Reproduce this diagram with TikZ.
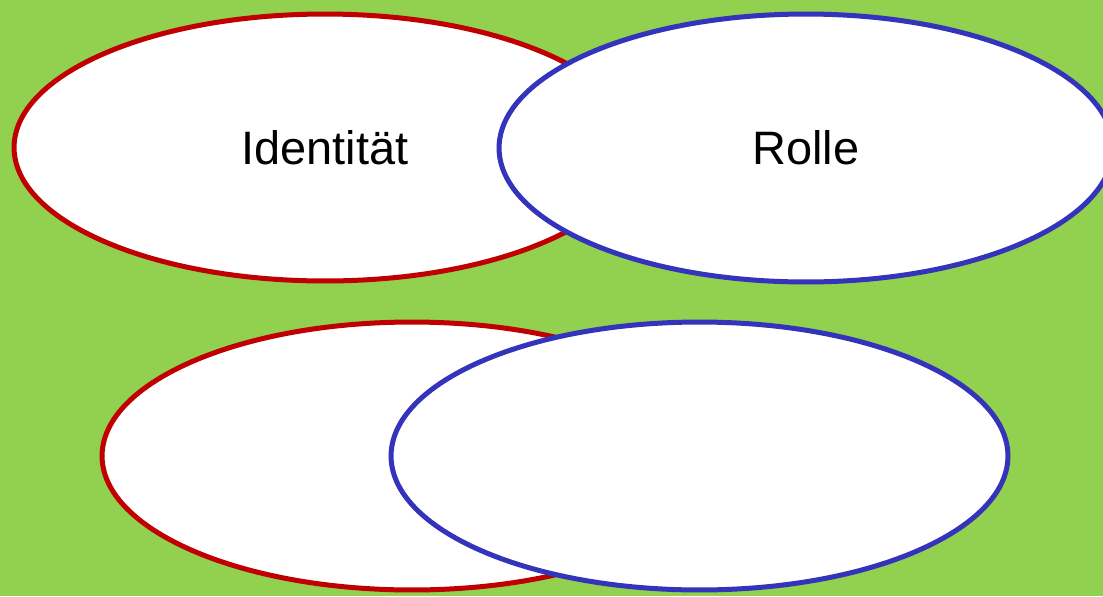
\documentclass[tikz,border=0pt]{standalone}
\usepackage{fontspec}
\setmainfont{Liberation Sans}
\usetikzlibrary{shapes.geometric}
\definecolor{bggreen}{RGB}{146,208,80}
\definecolor{idred}{RGB}{192,0,0}
\definecolor{roleblue}{RGB}{51,51,187}

\begin{document}
\begin{tikzpicture}[x=0.02cm,y=-0.02cm,
  blob/.style={ellipse,draw,fill=white,line width=0.1cm,inner sep=0pt,
    font=\fontsize{26.7}{32}\selectfont},
  idblob/.style={blob,draw=idred},
  roleblob/.style={blob,draw=roleblue}]
\fill[bggreen] (0,0) rectangle (1103,596);
\useasboundingbox (0,0) rectangle (1103,596);

% Upper pair
\node[idblob,minimum width=12.44cm,minimum height=5.34cm] (ident) at (325,147.5) {Identität};
\node[roleblob,minimum width=12.28cm,minimum height=5.36cm] (role) at (806,148) {Rolle};

% Lower pair
\node[idblob,minimum width=12.4cm,minimum height=5.36cm] (identlow) at (412,456) {};
\node[roleblob,minimum width=12.34cm,minimum height=5.36cm] (rolelow) at (699.5,456) {};
\end{tikzpicture}
\end{document}
